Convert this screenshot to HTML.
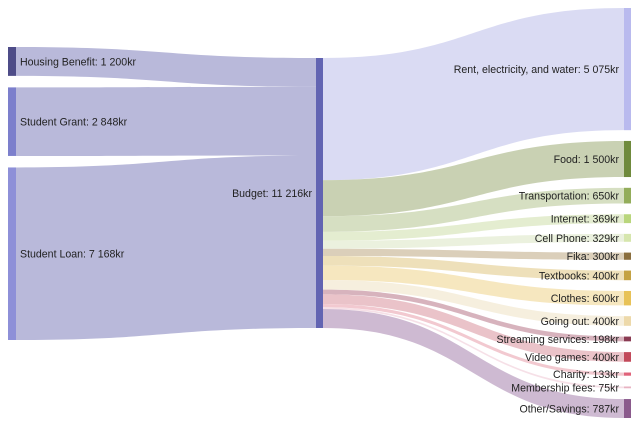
<!DOCTYPE html>
<html><head><meta charset="utf-8"><style>
html,body{margin:0;padding:0;background:#fff}
svg{display:block}
text{font-family:"Liberation Sans",sans-serif;font-size:10.6px;fill:#222}
</style></head><body>
<svg id="c" width="640" height="427"></svg>
<script>
const sourceNames=["Housing Benefit","Student Grant","Student Loan"];
const sourceValues=[1200,2848,7168];
const sourceColors=["#4e4c88","#7c7fcc","#8e90d8"];
const targetNames=["Rent, electricity, and water","Food","Transportation","Internet","Cell Phone","Fika","Textbooks","Clothes","Going out","Streaming services","Video games","Charity","Membership fees","Other/Savings"];
const targetValues=[5075,1500,650,369,329,300,400,600,400,198,400,133,75,787];
const targetColors=["#b9baee","#6f8a3c","#93ad5a","#b9d67c","#d6e6ad","#8a6e3e","#c4a243","#e8c257","#edd9aa","#8a3a52","#c2495a","#e0637a","#e8b3c2","#8a5a8c"];
const linkColors=["#d6d7f2","#c3ccab","#d2dcbb","#e1ebcb","#e9f0da","#d7cab3","#ecddb2","#f5e4b8","#f5edda","#d3abb6","#e8bcc3","#f1c3cb","#f5dde4","#c9b2cd"];
const budgetName="Budget";
const ns="http://www.w3.org/2000/svg";
const svg=document.getElementById('c');
const total=sourceValues.reduce((a,b)=>a+b,0);
const k=270/total;
function fmt(v){const s=String(v);return s.length>3?s.slice(0,s.length-3)+"\u00a0"+s.slice(-3):s;}
function mk(tag,attrs){const e=document.createElementNS(ns,tag);for(const a in attrs)e.setAttribute(a,attrs[a]);svg.appendChild(e);return e;}
function ribbon(x0,y0a,y0b,x1,y1a,y1b){const m=(x0+x1)/2;return `M${x0},${y0a}C${m},${y0a} ${m},${y1a} ${x1},${y1a}L${x1},${y1b}C${m},${y1b} ${m},${y0b} ${x0},${y0b}Z`;}
const budgetTop=58, bx0=316, bx1=323;
const lx0=8,lx1=16, rx0=624, rx1=631;
const lGap=(340-47-total*k)/(sourceValues.length-1);
let y=47; const sPos=[];
sourceValues.forEach(v=>{sPos.push([y,y+v*k]);y+=v*k+lGap;});
const tTotal=targetValues.reduce((a,b)=>a+b,0);
const rGap=(418-8-tTotal*k)/(targetValues.length-1);
y=8; const tPos=[];
targetValues.forEach(v=>{tPos.push([y,y+v*k]);y+=v*k+rGap;});
let by=budgetTop;
sourceValues.forEach((v,i)=>{
  const p=mk('path',{d:ribbon(lx1,sPos[i][0],sPos[i][1],bx0,by,by+v*k),fill:"#b9b9da"});
  
  
  by+=v*k;
});
by=budgetTop;
targetValues.forEach((v,i)=>{
  const p=mk('path',{d:ribbon(bx1,by,by+v*k,rx0,tPos[i][0],tPos[i][1]),fill:linkColors[i],'fill-opacity':0.9});
  
  
  by+=v*k;
});
sourceValues.forEach((v,i)=>{
  const r=mk('rect',{x:lx0,y:sPos[i][0],width:lx1-lx0,height:v*k,fill:sourceColors[i]});
  
  
  const t=mk('text',{x:20,y:(sPos[i][0]+sPos[i][1])/2+4});
  t.textContent=sourceNames[i]+": "+fmt(v)+"kr";
  
  
});
const br=mk('rect',{x:bx0,y:budgetTop,width:bx1-bx0,height:total*k,fill:"#6264b2"});


const bt=mk('text',{x:312,y:budgetTop+total*k/2+4,'text-anchor':'end'});
bt.textContent=budgetName+": "+fmt(total)+"kr";


targetValues.forEach((v,i)=>{
  const r=mk('rect',{x:rx0,y:tPos[i][0],width:rx1-rx0,height:Math.max(v*k,1.2),fill:targetColors[i]});
  
  
  const t=mk('text',{x:619,y:(tPos[i][0]+tPos[i][1])/2+4,'text-anchor':'end'});
  t.textContent=targetNames[i]+": "+fmt(v)+"kr";
  
  
});
</script>
</body></html>
